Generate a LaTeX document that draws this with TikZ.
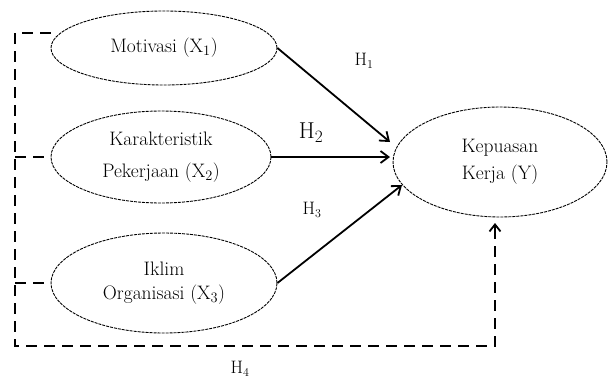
\documentclass[tikz,border=0pt]{standalone}
\usetikzlibrary{shapes.geometric,arrows.meta}
\begin{document}
\begin{tikzpicture}[x=1pt,y=-1pt,
  latent/.style={ellipse,draw=black,line width=0.9pt,dash pattern=on 3pt off 1pt,
    inner sep=0pt,align=center,font=\fontsize{19.5}{25}\selectfont},
  arr/.style={line width=1.8pt,-{Straight Barb[length=8pt,width=12pt,line width=1.8pt]}},
  dbox/.style={line width=2.3pt,dash pattern=on 11pt off 7pt},
  hlab/.style={font=\fontsize{18}{20}\selectfont}]
\useasboundingbox (0,0) rectangle (608,381);
\clip (0,0) rectangle (608,381);
\node[latent,minimum width=226pt,minimum height=74pt] (m) at (164,48) {Motivasi (X$_1$)};
\node[latent,minimum width=220pt,minimum height=92pt,font=\fontsize{19.5}{32}\selectfont] (k) at (161,157) {Karakteristik\\Pekerjaan (X$_2$)};
\node[latent,minimum width=226pt,minimum height=100pt,font=\fontsize{19.5}{24}\selectfont] (i) at (164,283) {Iklim\\Organisasi (X$_3$)};
\node[latent,minimum width=214pt,minimum height=110pt,font=\fontsize{19.5}{27}\selectfont] (y) at (500,162) {Kepuasan\\Kerja (Y)};
\coordinate (t1) at (390,142);
\coordinate (t3) at (402,185);
\draw[arr] (m.east) -- (t1);
\draw[arr] (k.east) -- (k.east -| t1);
\draw[arr] (i.east) -- (t3);
\coordinate (tl) at (15,33);
\coordinate (bl) at (15,346);
\coordinate (br) at (495,346);
\draw[dbox] (m.west |- tl) -- (tl) -- (bl) -- (br) -- (495,234);
\draw[line width=1.8pt,-{Straight Barb[length=7pt,width=11pt,line width=1.8pt]}] (495,238) -- (495,223);
\draw[dbox] (tl |- k.west) -- (k.west);
\draw[dbox] (tl |- i.west) -- (i.west);
\node[hlab] (h1) at (364,61) {H$_1$};
\node[font=\fontsize{23}{25}\selectfont] (h2) at (311,133) {H$_2$};
\node[hlab] (h3) at (312,210) {H$_3$};
\node[hlab] (h4) at (240,369) {H$_4$};
\end{tikzpicture}
\end{document}
